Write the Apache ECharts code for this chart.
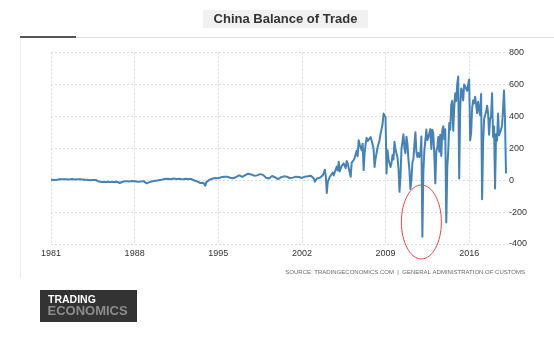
<!DOCTYPE html>
<html>
<head>
<meta charset="utf-8">
<script src="https://cdn.jsdelivr.net/npm/echarts@6/dist/echarts.min.js"></script>
<style>
  html, body { margin: 0; padding: 0; background: #fff; }
  #chart { width: 554px; height: 342px; }
</style>
</head>
<body>
<div id="chart"></div>
<script>
// Monthly balance of trade, 100 million USD, starting January 1981
const startYear = 1981;
const axisMonths = 460;            // Jan 1981 .. Apr 2019 on the category axis
const yearStep = 7;                // one x label every seven years
const valueMin = -400;
const valueMax = 800;
const valueStep = 200;

const balance1980s = [
  2, 0, 3, 1, 4, 2, 3, 5, 4, 6, 5, 3,
  5, 4, 6, 5, 7, 6, 4, 6, 8, 7, 5, 6,
  4, 5, 6, 5, 4, 6, 5, 7, 4, 3, 5, 2,
  3, 1, 2, 0, 2, -1, 1, 0, -2, 1, -3, -5,
  -8, -6, -10, -12, -9, -14, -11, -15, -12, -10, -13, -16,
  -12, -9, -14, -11, -16, -13, -10, -15, -12, -18, -8, -14,
  -10, -7, -9, -6, -8, -5, -9, -4, -7, -5, -8, -6,
  -7, -9, -6, -10, -8, -5, -9, -7, -11, -6, -8, -12,
  -20, -14, -10, -12, -8, -11, -7, -9, -6, -4, -2, -5
];
const balance1990s = [
  -1, 2, 4, 3, 6, 5, 8, 6, 7, 9, 8, 10,
  6, 8, 7, 10, 9, 11, 8, 12, 10, 9, 11, 7,
  5, 8, 6, 9, 7, 10, 8, 6, 9, 7, 4, 2,
  -2, -6, -10, -8, -14, -12, -18, -15, -10, -16, -20, -35,
  -12, -8, -5, 2, 4, 6, 9, 12, 10, 14, 15, 18,
  12, 15, 14, 18, 16, 20, 22, 19, 24, 21, 18, 20,
  15, 10, 14, 12, 16, 18, 20, 24, 22, 30, 36, 28,
  20, 18, 28, 32, 36, 38, 40, 37, 33, 36, 35, 30,
  28, 25, 32, 30, 36, 34, 38, 35, 30, 33, 27, 24,
  15, 8, 12, 10, 18, 22, 26, 20, 16, 18, 22, 10
];
const balance2000s = [
  6, 12, 16, 18, 20, 22, 24, 20, 18, 22, 24, 20,
  12, 6, 18, 16, 20, 24, 22, 18, 16, 20, 24, 18,
  14, 18, 20, 22, 26, 28, 24, 26, 30, 28, 22, 20,
  10, -10, -5, 10, 15, 20, 15, 20, 25, 30, 20, 65,
  25, -80, -10, -15, 20, 20, 22, 48, 30, 50, 55, 85,
  60, 115, 55, 50, 90, 95, 105, 100, 75, 120, 105, 110,
  95, 21, 110, 105, 125, 140, 145, 185, 150, 250, 225, 205,
  188, 229, 63, 170, 225, 265, 245, 250, 240, 270, 260, 225,
  195, 83, 135, 170, 205, 215, 252, 290, 295, 350, 417, 406,
  395, 42, 187, 130, 135, 83, 106, 157, 130, 240, 192, 184
];
const balance2010s = [
  142, 76, -73, 17, 195, 200, 287, 200, 169, 272, 229, 131,
  65, -55, 1, 114, 131, 223, 300, 178, 145, 170, 145, 165,
  273, -354, 54, 184, 187, 317, 251, 267, 277, 320, 196, 316,
  292, 152, -20, 182, 204, 271, 178, 285, 152, 311, 338, 256,
  319, -265, 77, 185, 359, 316, 473, 498, 310, 454, 545, 496,
  600, 650, 10, 450, 575, 560, 500, 600, 605, 610, 560, 600,
  630, 250, 300, 455, 500, 481, 523, 521, 420, 491, 446, 408,
  540, -120, 239, 380, 408, 428, 467, 420, 285, 382, 402, 545,
  271, 337, -52, 288, 249, 417, 281, 279, 317, 340, 447, 562,
  375, 42
];

const balance = balance1980s.concat(balance1990s, balance2000s, balance2010s);

// Month keys "YYYY-MM" for the category axis
const months = [];
for (let i = 0; i < axisMonths; i++) {
  const y = startYear + Math.floor(i / 12);
  const m = (i % 12) + 1;
  months.push(y + '-' + (m < 10 ? '0' + m : m));
}
const labelEvery = yearStep * 12 - 1;

const axisFont = 'Liberation Sans, Arial, sans-serif';
const lineColor = '#4682b4';
const gridLineStyle = { color: '#dcdcdc', width: 1, type: [2, 2] };

const chart = echarts.init(document.getElementById('chart'), null, { renderer: 'canvas' });

chart.setOption({
  backgroundColor: '#ffffff',
  animation: false,
  grid: { left: 51, right: 46, top: 52.5, bottom: 98, containLabel: false },
  xAxis: {
    type: 'category',
    data: months,
    boundaryGap: false,
    axisLine: { show: false },
    axisTick: { show: false },
    axisLabel: {
      interval: labelEvery,
      margin: 5,
      color: '#333',
      fontSize: 9,
      fontFamily: axisFont,
      formatter: v => v.slice(0, 4)
    },
    splitLine: { show: true, interval: labelEvery, lineStyle: gridLineStyle }
  },
  yAxis: {
    type: 'value',
    position: 'right',
    min: valueMin,
    max: valueMax,
    interval: valueStep,
    axisLine: { show: false },
    axisTick: { show: false },
    axisLabel: { margin: 1, color: '#333', fontSize: 9, fontFamily: axisFont },
    splitLine: { show: true, lineStyle: gridLineStyle }
  },
  series: [{
    name: 'Balance of Trade',
    type: 'line',
    data: balance,
    showSymbol: false,
    symbol: 'none',
    lineStyle: { color: lineColor, width: 2, join: 'round' },
    z: 3
  }],
  graphic: [
    // title plate
    { type: 'rect', left: 203, top: 10, shape: { width: 165, height: 18 }, style: { fill: '#f1f1f1' }, z: 10 },
    { type: 'text', x: 285.5, y: 19.5, style: { text: 'China Balance of Trade', fill: '#333', font: 'bold 13px Liberation Sans, Arial, sans-serif', textAlign: 'center', textVerticalAlign: 'middle' }, z: 11 },
    // header rule
    { type: 'line', shape: { x1: 76, y1: 37.5, x2: 554, y2: 37.5 }, style: { stroke: '#dedede', lineWidth: 1 }, z: 10 },
    { type: 'rect', left: 20, top: 36, shape: { width: 56, height: 2 }, style: { fill: '#555' }, z: 11 },
    // panel edge
    { type: 'line', shape: { x1: 20.5, y1: 38, x2: 20.5, y2: 278 }, style: { stroke: '#ececec', lineWidth: 1 }, z: 10 },
    // source note
    { type: 'text', x: 525, y: 272, style: { text: 'SOURCE: TRADINGECONOMICS.COM  |  GENERAL ADMINISTRATION OF CUSTOMS', fill: '#6a6a6a', font: '6px Liberation Sans, Arial, sans-serif', textAlign: 'right', textVerticalAlign: 'middle' }, z: 10 },
    // logo
    { type: 'rect', left: 40, top: 290, shape: { width: 97, height: 32 }, style: { fill: '#333' }, z: 10 },
    { type: 'text', x: 48, y: 300.5, style: { text: 'TRADING', fill: '#ffffff', font: 'bold 10.5px Liberation Sans, Arial, sans-serif', textAlign: 'left', textVerticalAlign: 'middle' }, z: 11 },
    { type: 'text', x: 47.5, y: 311.5, style: { text: 'ECONOMICS', fill: '#8c8c8c', font: 'bold 13px Liberation Sans, Arial, sans-serif', textAlign: 'left', textVerticalAlign: 'middle' }, z: 11 }
  ]
});

// Red ring around the February 2012 deficit
const ringAt = chart.convertToPixel({ gridIndex: 0 }, ['2012-02', -262]);
chart.setOption({
  graphic: [{
    id: 'ring',
    type: 'ellipse',
    shape: { cx: ringAt[0] - 1, cy: ringAt[1], rx: 20, ry: 37 },
    style: { fill: 'none', stroke: '#e5484d', lineWidth: 1 },
    z: 12
  }]
});
</script>
</body>
</html>
